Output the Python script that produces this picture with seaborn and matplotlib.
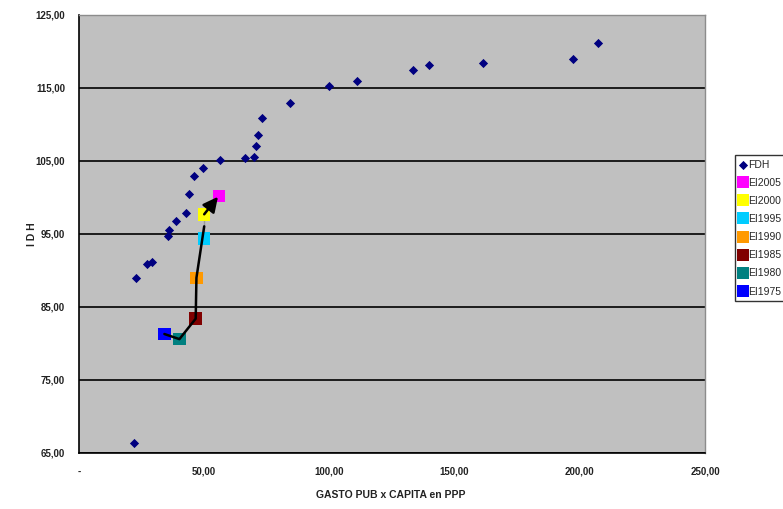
import matplotlib
matplotlib.use("Agg")
import matplotlib.pyplot as plt
import matplotlib.ticker as mticker
import seaborn as sns
import pandas as pd

# Frontier points (FDH): public spending per capita (PPP) vs IDH
fdh_gasto = [22.1, 22.8, 27.3, 29.0, 35.7, 36.1, 38.6, 42.6, 44.1, 45.9, 49.4,
             56.4, 66.4, 69.9, 70.6, 71.6, 72.9, 84.1, 99.7, 111.2, 133.2,
             139.9, 161.3, 197.4, 207.1]
fdh_idh = [66.4, 89.0, 90.9, 91.1, 94.7, 95.5, 96.8, 97.9, 100.5, 103.0, 104.0,
           105.2, 105.4, 105.6, 107.1, 108.6, 110.9, 113.0, 115.3, 116.0, 117.4,
           118.1, 118.4, 119.0, 121.2]

# Trajectory of the country by period
ei_labels = ["EI1975", "EI1980", "EI1985", "EI1990", "EI1995", "EI2000", "EI2005"]
ei_gasto = [34.1, 40.1, 46.6, 46.9, 50.0, 50.0, 55.8]
ei_idh = [81.3, 80.6, 83.4, 89.0, 94.4, 97.7, 100.2]
ei_colors = ["#0000FF", "#008080", "#800000", "#FF9900", "#00CCFF", "#FFFF00", "#FF00FF"]

y_ticks = [65, 75, 85, 95, 105, 115, 125]
x_ticks = [0, 50, 100, 150, 200, 250]

font = ["Liberation Sans Narrow", "Liberation Sans", "DejaVu Sans"]

sns.set_style("white")
plt.rcParams["font.family"] = font

fig = plt.figure(figsize=(7.83, 5.09), dpi=100)
ax = fig.add_axes([79 / 783, 1 - 453 / 509, (705 - 79) / 783, (453 - 15) / 509])
ax.set_facecolor("#C0C0C0")

fdh = pd.DataFrame({"gasto": fdh_gasto, "idh": fdh_idh})
ei = pd.DataFrame({"gasto": ei_gasto, "idh": ei_idh, "serie": ei_labels})

sns.scatterplot(data=fdh, x="gasto", y="idh", marker="D", s=22, color="#000080",
                edgecolor="#000080", linewidth=0, ax=ax, zorder=3, label="FDH")
sns.scatterplot(data=ei, x="gasto", y="idh", hue="serie", hue_order=ei_labels[::-1],
                palette=dict(zip(ei_labels, ei_colors)), marker="s", s=80,
                linewidth=0, ax=ax, zorder=3)

# Path of the trajectory with arrowhead on the last period
sns.lineplot(x=ei_gasto[:-1], y=ei_idh[:-1], sort=False, color="black", lw=1.8,
             ax=ax, zorder=4, legend=False)
ax.annotate("", xy=(ei_gasto[-1] - 0.3, ei_idh[-1] - 0.1), xytext=(ei_gasto[-2], ei_idh[-2]),
            arrowprops=dict(arrowstyle="-|>,head_length=0.9,head_width=0.45",
                            color="black", lw=1.8, shrinkA=0, shrinkB=0),
            zorder=5)

ax.set_xlim(0, 250)
ax.set_ylim(65, 125)
ax.set_xticks(x_ticks)
ax.set_yticks(y_ticks)

def fmt_num(v, pos=None):
    if v == 0:
        return "-"
    return f"{v:.2f}".replace(".", ",")

ax.xaxis.set_major_formatter(mticker.FuncFormatter(fmt_num))
ax.yaxis.set_major_formatter(mticker.FuncFormatter(fmt_num))
ax.tick_params(axis="both", direction="out", length=4, width=1, color="black",
               labelsize=7, pad=6)
for lab in ax.get_xticklabels() + ax.get_yticklabels():
    lab.set_fontweight("bold")
    lab.set_color("#222222")

ax.yaxis.grid(True, color="black", lw=1.2)
ax.set_axisbelow(True)
for side in ["left", "bottom"]:
    ax.spines[side].set_color("black")
    ax.spines[side].set_linewidth(1.2)
for side in ["top", "right"]:
    ax.spines[side].set_color("#8C8C8C")
    ax.spines[side].set_linewidth(1.0)

ax.set_xlabel("GASTO PUB x CAPITA en PPP", fontsize=7.5, fontweight="bold",
              color="#222222")
ax.xaxis.set_label_coords((391 - 79) / 626, -(490 - 453) / 438)
ax.set_ylabel("I D H", fontsize=7.5, fontweight="bold", color="#222222")
ax.yaxis.set_label_coords(-(79 - 37) / 626, 0.5)

handles, labels = ax.get_legend_handles_labels()
order = ["FDH"] + ei_labels[::-1]
hmap = dict(zip(labels, handles))
leg = fig.legend([hmap[k] for k in order], order, loc="upper left",
                 bbox_to_anchor=(735 / 783, 1 - 155 / 509), frameon=True,
                 fancybox=False, edgecolor="black", fontsize=7.5, handlelength=0.6,
                 handletextpad=0.2, labelspacing=0.78, borderpad=0.45,
                 borderaxespad=0)
leg.get_frame().set_linewidth(1.0)
if ax.get_legend():
    ax.get_legend().remove()

fig.savefig("out.png", dpi=100)
